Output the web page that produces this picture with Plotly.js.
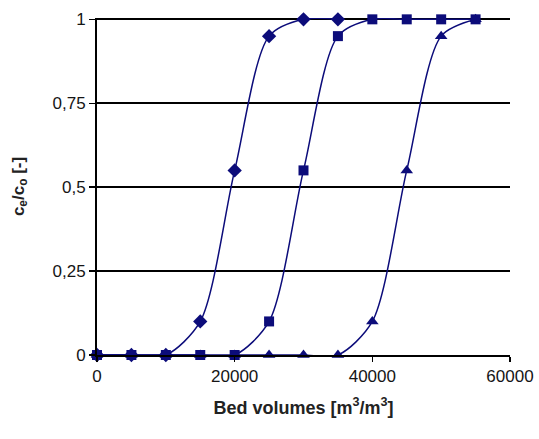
<!DOCTYPE html>
<html><head><meta charset="utf-8">
<script src="https://cdn.plot.ly/plotly-3.0.1.min.js"></script>
<style>html,body{margin:0;padding:0;background:#fff}#c{width:539px;height:439px}</style>
</head><body><div id="c"></div>
<script>
var bedVolumes = [0,5000,10000,15000,20000,25000,30000,35000,40000,45000,50000,55000];
var diamondX = [0,5000,10000,15000,20000,25000,30000,35000];
var diamondY = [0,0,0,0.1,0.55,0.95,1,1];
var squareY = [0,0,0,0,0,0.1,0.55,0.95,1,1,1,1];
var triangleY = [0,0,0,0,0,0,0,0,0.1,0.55,0.95,1];
var xTickVals = [0,20000,40000,60000];
var xTickText = ['0','20000','40000','60000'];
var yTickVals = [0,0.25,0.5,0.75,1];
var yTickText = ['0','0,25','0,5','0,75','1'];
var navy = '#0c0c7a';
function tr(x,y,sym){
  return {x:x,y:y,type:'scatter',mode:'lines+markers',
    line:{color:navy,width:1.5,shape:'spline',smoothing:0.8},
    marker:{symbol:sym,size:sym==='square'?10:11,color:navy},showlegend:false,cliponaxis:false};
}
var data=[tr(bedVolumes,triangleY,'triangle-up'),tr(bedVolumes,squareY,'square'),tr(diamondX,diamondY,'diamond')];
var tf={family:'Liberation Sans, Arial, sans-serif',size:17,color:'#151515'};
var layout={
  width:539,height:439,margin:{l:97,r:29,t:18,b:84},
  paper_bgcolor:'#fff',plot_bgcolor:'#fff',
  font:{family:'Liberation Sans, Arial, sans-serif',size:17,color:'#151515'},
  xaxis:{range:[0,60000],tickvals:xTickVals,ticktext:xTickText,showgrid:false,zeroline:false,
    showline:true,linecolor:'#000',linewidth:2,ticks:'outside',ticklen:5,tickcolor:'#000',tickwidth:1.5,
    tickfont:tf,
    title:{text:'<b>Bed volumes [m<sup>3</sup>/m<sup>3</sup>]</b>',font:{size:18,color:'#222'},standoff:16}},
  yaxis:{range:[0,1.004],tickvals:yTickVals,ticktext:yTickText,showgrid:true,gridcolor:'#000',gridwidth:2,zeroline:false,
    showline:true,linecolor:'#000',linewidth:2,ticks:'outside',ticklen:6,tickcolor:'#000',tickwidth:1.5,
    tickfont:tf,
    title:{text:'<b>c<sub>e</sub>/c<sub>o</sub> [-]</b>',font:{size:17,color:'#222'},standoff:24}}
};
Plotly.newPlot('c',data,layout,{displayModeBar:false,staticPlot:true});
</script></body></html>
